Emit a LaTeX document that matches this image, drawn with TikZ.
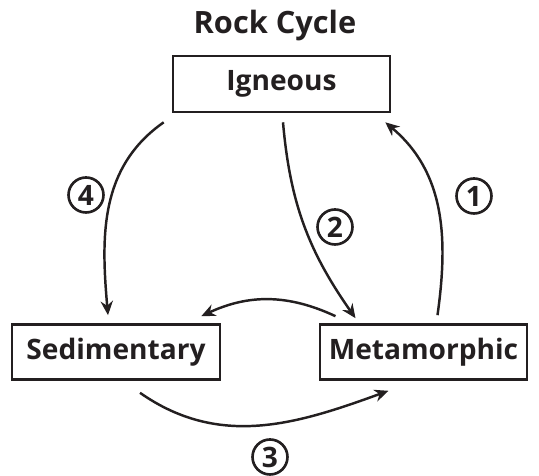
\documentclass[tikz,border=0pt]{standalone}
\usepackage{fontspec}
\setmainfont{Open Sans}
\usetikzlibrary{arrows.meta, positioning}
\definecolor{rink}{HTML}{231F20}

\begin{document}
\begin{tikzpicture}[x=0.02cm, y=0.02cm,
    rockbox/.style={draw=rink, line width=1.5pt, font=\fontsize{16}{19}\selectfont\bfseries,
      text=rink, inner sep=0pt},
    steplabel/.style={circle, draw=rink, line width=1.5pt, minimum size=0.7cm, inner sep=0pt,
      font=\fontsize{16}{19}\selectfont\bfseries, text=rink},
    flow/.style={draw=rink, line width=1.4pt, -{Stealth[length=8pt, width=7pt]}}]

  \useasboundingbox (0,0) rectangle (539,476);

  %% title
  \node[font=\fontsize{17.5}{21}\selectfont\bfseries, text=rink] (title) at (275,450) {Rock Cycle};

  %% the three rock types
  \node[rockbox, minimum width=4.34cm, minimum height=1.12cm] (ign) at (281.5,392) {Igneous};
  \node[rockbox, minimum width=4.16cm, minimum height=1.1cm] (sed) at (116,124) {Sedimentary};
  \node[rockbox, minimum width=4.14cm, minimum height=1.1cm] (met) at (423.5,124) {Metamorphic};

  %% arrows between them
  \draw[flow] ([shift={(-8,-9)}]ign.south west) to[out=215, in=95] ([shift={(-8,8)}]sed.north);
  \draw[flow] ([shift={(1.5,-9)}]ign.south) to[out=-85, in=125] ([shift={(-68,5)}]met.north);
  \draw[flow] ([shift={(14,8)}]met.north) to[out=82, in=-40] ([shift={(-6,-9)}]ign.south east);
  \draw[flow] ([shift={(-88,7)}]met.north) to[out=155, in=25] ([shift={(-20,7)}]sed.north east);
  \draw[flow] ([shift={(24,-12)}]sed.south) to[out=-35, in=200] ([shift={(-35,-10)}]met.south);

  %% step numbers
  \node[steplabel] (n1) at (474,280) {1};
  \node[steplabel] (n2) at (335,249) {2};
  \node[steplabel] (n3) at (270,19) {3};
  \node[steplabel] (n4) at (86,281) {4};

\end{tikzpicture}
\end{document}
